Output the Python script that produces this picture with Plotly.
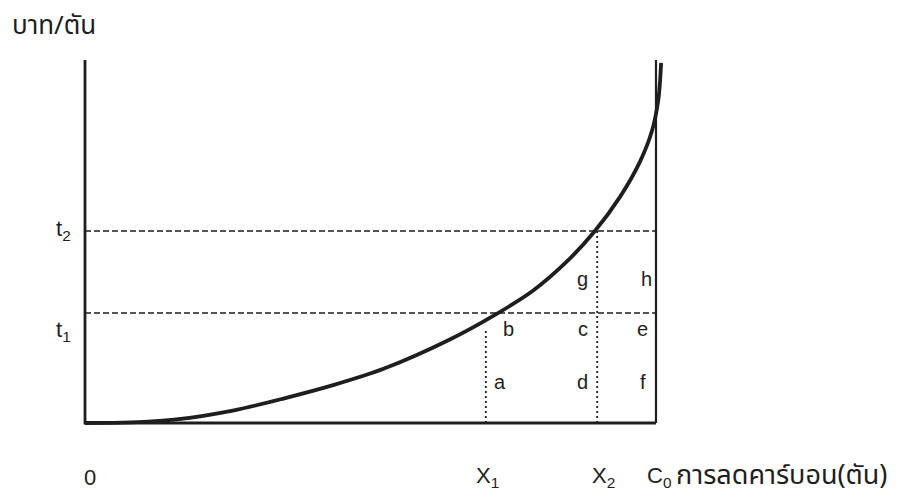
import numpy as np
import plotly.graph_objects as go

# ---- data ----
curve_x = [0, 8.0, 15.6, 26.1, 34.9, 43.6, 52.4, 63.9, 71.5, 78.5, 84.4, 89.3, 93.7, 97.2, 99.3, 100.4, 100.9]
curve_y = [0, 0.15, 0.9, 3.5, 6.8, 10.5, 15.0, 23.0, 29.5, 36.5, 44.5, 52.9, 62.3, 72.0, 80.5, 89.0, 99.2]
X1, X2, C0 = 70.2, 89.7, 100.0
t1, t2 = 30.3, 52.9
x_tick_labels = ["0", "X<sub>1</sub>", "X<sub>2</sub>", "C<sub>0</sub>"]
y_tick_labels = ["t<sub>1</sub>", "t<sub>2</sub>"]
region_labels = ["a", "b", "c", "d", "e", "f", "g", "h"]
y_title = "บาท/ตัน"
x_title = "การลดคาร์บอน(ตัน)"

LAT = "Liberation Sans, Arial, sans-serif"
THAI = "Noto Sans Thai, Loma, Garuda, Norasi, Laksaman, sans-serif"
INK = "#1e1e1e"

fig = go.Figure()

# axes frame
fig.add_trace(go.Scatter(x=[0, 0, C0], y=[100, 0, 0], mode="lines",
                         line=dict(color=INK, width=2.8), hoverinfo="skip", showlegend=False))
fig.add_trace(go.Scatter(x=[C0, C0], y=[0, 100], mode="lines",
                         line=dict(color=INK, width=2.2), hoverinfo="skip", showlegend=False))
# dashed price lines
for t in (t1, t2):
    fig.add_trace(go.Scatter(x=[0, C0], y=[t, t], mode="lines",
                             line=dict(color=INK, width=1.5, dash="6px,3px"),
                             hoverinfo="skip", showlegend=False))
# dotted quantity lines
top1 = float(np.interp(X1, curve_x, curve_y)) - 2.5
fig.add_trace(go.Scatter(x=[X1, X1], y=[0, top1], mode="lines",
                         line=dict(color=INK, width=1.8, dash="2px,3px"),
                         hoverinfo="skip", showlegend=False))
fig.add_trace(go.Scatter(x=[X2, X2], y=[0, t2], mode="lines",
                         line=dict(color=INK, width=1.8, dash="2px,3px"),
                         hoverinfo="skip", showlegend=False))
# MAC curve
fig.add_trace(go.Scatter(x=curve_x, y=curve_y, mode="lines",
                         line=dict(color=INK, width=3.8, shape="spline", smoothing=0.9),
                         hoverinfo="skip", showlegend=False))

ann = []
# x tick labels
tick_x = [0.8, X1 - 2.0, X2 - 1.3, C0 - 1.9]
anchors = ["center", "left", "left", "left"]
for lab, x, a in zip(x_tick_labels, tick_x, anchors):
    ann.append(dict(x=x, y=-15.0, text=lab, xanchor=a, yanchor="middle", showarrow=False,
                    font=dict(family=LAT, size=22, color=INK)))
ann.append(dict(x=C0 + 3.1, y=-14.4, text=x_title, xanchor="left", yanchor="middle", showarrow=False,
                font=dict(family=THAI, size=27, color=INK)))
# y tick labels
for lab, t, dy in zip(y_tick_labels, (t1, t2), (-5.0, 0.2)):
    ann.append(dict(x=-5.4, y=t + dy, text=lab, xanchor="left", yanchor="middle", showarrow=False,
                    font=dict(family=LAT, size=22, color=INK)))
ann.append(dict(x=-13.2, y=109.3, text=y_title, xanchor="left", yanchor="middle", showarrow=False,
                font=dict(family=THAI, size=26, color=INK)))
# region labels
col_a, col_c, col_e = X1 + 2.5, X2 - 2.5, C0 - 2.3
row_lo, row_mid, row_hi = t1 * 0.37, t1 - 4.5, (t1 + t2) / 2 - 2
pos = [(col_a, row_lo), (col_a + 1.4, row_mid), (col_c, row_mid), (col_c, row_lo),
       (col_e, row_mid), (col_e, row_lo), (col_c, row_hi), (col_e + 0.7, row_hi)]
for lab, (x, y) in zip(region_labels, pos):
    ann.append(dict(x=x, y=y, text=lab, xanchor="center", yanchor="middle", showarrow=False,
                    font=dict(family=LAT, size=20, color=INK)))

# the page body has an 8px margin, so the axis ranges are shifted to compensate
fig.update_layout(
    width=905, height=499,
    margin=dict(l=0, r=0, t=0, b=0),
    paper_bgcolor="white", plot_bgcolor="white",
    xaxis=dict(range=[-13.485, 145.01], visible=False, fixedrange=True),
    yaxis=dict(range=[-23.14, 114.325], visible=False, fixedrange=True),
    annotations=ann,
    showlegend=False,
)
fig.write_html("out.html")
